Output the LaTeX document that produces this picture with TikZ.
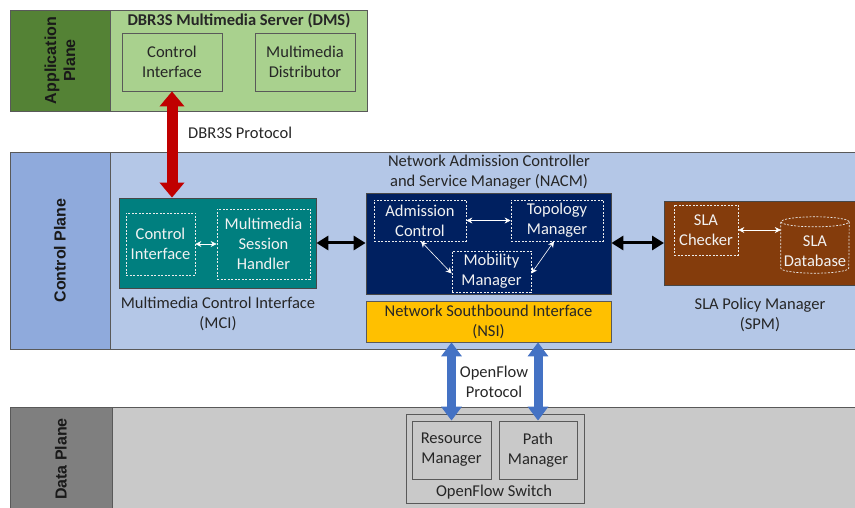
\documentclass[tikz,border=0pt]{standalone}
\usepackage{fontspec}
\setmainfont{Carlito}
\newfontfamily\planefont{Liberation Sans}
\usetikzlibrary{arrows.meta,shapes.geometric}
\definecolor{appdark}{HTML}{548235}
\definecolor{applight}{HTML}{A9D18E}
\definecolor{ctldark}{HTML}{8FAADC}
\definecolor{ctllight}{HTML}{B4C7E7}
\definecolor{datadark}{HTML}{7F7F7F}
\definecolor{datalight}{HTML}{C9C9C9}
\definecolor{teal2}{HTML}{007F7F}
\definecolor{navy2}{HTML}{002060}
\definecolor{gold2}{HTML}{FFC000}
\definecolor{brown2}{HTML}{843C0C}
\definecolor{red2}{HTML}{C00000}
\definecolor{blue2}{HTML}{4472C4}
\definecolor{edge}{HTML}{595959}
\definecolor{txt}{HTML}{262626}
\definecolor{wtxt}{HTML}{F2F2F2}
\tikzset{
  plain/.style={font=\fontsize{16.5}{20}\selectfont, text=txt, align=center, inner sep=0pt},
  box/.style={draw=edge, line width=0.8pt, inner sep=0pt, align=center, font=\fontsize{16.5}{20}\selectfont, text=txt},
  dbox/.style={draw=white!85!gray, dashed, dash pattern=on 2pt off 1.5pt, line width=0.7pt, inner sep=0pt, align=center, font=\fontsize{16.5}{20}\selectfont, text=wtxt},
  planelbl/.style={rotate=90, font=\planefont\bfseries\fontsize{16}{19}\selectfont, text=black!90, align=center, inner sep=0pt},
  warrow/.style={draw=white, line width=0.6pt, {Stealth[length=6pt,width=6pt]}-{Stealth[length=6pt,width=6pt]}},
  barrow/.style={draw=black, line width=3pt, {Triangle[length=12pt,width=14pt]}-{Triangle[length=12pt,width=14pt]}},
}
\begin{document}
\begin{tikzpicture}[x=1pt,y=-1pt]
\useasboundingbox (0,0) rectangle (855,508);
% ---------- Application plane
\node[box, fill=applight, minimum width=257pt, minimum height=101pt] (appbody) at (238.5,60.5) {};
\node[box, fill=appdark, minimum width=100pt, minimum height=101pt] (applbl) at (60,60.5) {};
\node[planelbl] (appname) at (60,60.5) {Application\\Plane};
\node[plain, font=\bfseries\fontsize{16.5}{20}\selectfont] (dms) at (239,21) {DBR3S Multimedia Server (DMS)};
\node[box, fill=applight, minimum width=100pt, minimum height=58pt] (appci) at (172,62) {Control\\Interface};
\node[box, fill=applight, minimum width=100pt, minimum height=58pt] (appmd) at (305,62) {Multimedia\\Distributor};
% ---------- Control plane
\draw[draw=edge, line width=0.8pt, fill=ctllight] (110,152) rectangle (862,349);
\node[box, fill=ctldark, minimum width=100pt, minimum height=197pt] (ctllbl) at (60,250.5) {};
\node[planelbl] (ctlname) at (60,250.5) {Control Plane};
% MCI
\node[box, fill=teal2, draw=edge!80!black, minimum width=197pt, minimum height=90pt] (mci) at (217.5,243) {};
\node[dbox, minimum width=69pt, minimum height=62pt] (mcici) at (160.5,244) {Control\\Interface};
\node[dbox, minimum width=93pt, minimum height=70pt] (mcimsh) at (263.5,244) {Multimedia\\Session\\Handler};
\node[plain] (mcilbl) at (218,314) {Multimedia Control Interface\\(MCI)};
% NACM
\node[plain] (nacmlbl) at (489,172.5) {Network Admission Controller\\and Service Manager (NACM)};
\node[box, fill=navy2, draw=edge!80!black, minimum width=245pt, minimum height=101pt] (nacm) at (488.5,243.5) {};
\node[dbox, minimum width=92pt, minimum height=41pt] (adm) at (420,220.5) {Admission\\Control};
\node[dbox, minimum width=92pt, minimum height=41pt] (topo) at (557,220.5) {Topology\\Manager};
\node[dbox, minimum width=79pt, minimum height=41pt] (mob) at (491.5,271.5) {Mobility\\Manager};
% NSI
\node[box, fill=gold2, minimum width=245pt, minimum height=41pt] (nsi) at (488.5,321.5) {Network Southbound Interface\\(NSI)};
% SPM
\draw[draw=edge!80!black, line width=0.8pt, fill=brown2] (664,201) rectangle (862,285);
\coordinate (spmwest) at (664,243);
\node[dbox, minimum width=64pt, minimum height=50pt] (slach) at (706,230) {SLA\\Checker};
\node[inner sep=0pt, minimum width=68pt, minimum height=56pt] (sladb) at (815,245) {};
\draw[draw=white!85!gray, dash pattern=on 2pt off 1.5pt, line width=0.7pt]
  ([yshift=-5pt]sladb.north) ellipse [x radius=34pt, y radius=5pt]
  ([yshift=-5pt]sladb.north west) -- ([yshift=5pt]sladb.south west)
  arc[start angle=180, end angle=360, x radius=34pt, y radius=5pt]
  -- ([yshift=-5pt]sladb.north east);
\node[plain, text=wtxt] (sladbt) at (815,251) {SLA\\Database};
\node[plain] (spmlbl) at (760,315) {SLA Policy Manager\\(SPM)};
% ---------- Data plane
\draw[draw=edge, line width=0.8pt, fill=datalight] (112,407) rectangle (862,515);
\draw[draw=edge, line width=0.8pt, fill=datadark] (10,407) rectangle (112,515);
\node[planelbl] (dataname) at (61,459) {Data Plane};
\node[box, fill=datalight, minimum width=178pt, minimum height=89pt] (switch) at (495,458.5) {};
\node[box, fill=datalight, minimum width=79pt, minimum height=58pt] (resm) at (451.5,450) {Resource\\Manager};
\node[box, fill=datalight, minimum width=78pt, minimum height=58pt] (pathm) at (538,450) {Path\\Manager};
\node[plain] (swlbl) at (494,492) {OpenFlow Switch};
% ---------- connectors
\draw[draw=red2, line width=11pt, {Triangle[length=15pt,width=24pt]}-{Triangle[length=15pt,width=24pt]}] (appci.south) -- (mci.north -| appci.south);
\node[plain, anchor=west] (dbrlbl) at (188,133) {DBR3S Protocol};
\draw[barrow] (mci.east) -- (nacm.west |- mci.east);
\draw[barrow] (nacm.east |- mci.east) -- (spmwest);
\draw[warrow] (mcici.east) -- (mcici.east -| mcimsh.west);
\draw[warrow] (adm.east) -- (topo.west);
\draw[warrow] ([xshift=1pt]adm.south) -- ([yshift=-2pt]mob.west);
\draw[warrow] ([xshift=-3pt]topo.south) -- ([yshift=-2pt]mob.east);
\draw[warrow] (slach.east) -- (slach.east -| sladb.west);
\draw[draw=blue2, line width=9pt, {Triangle[length=14pt,width=20pt]}-{Triangle[length=14pt,width=20pt]}] (nsi.south -| resm.north) -- (resm.north);
\draw[draw=blue2, line width=9pt, {Triangle[length=14pt,width=20pt]}-{Triangle[length=14pt,width=20pt]}] (nsi.south -| pathm.north) -- (pathm.north);
\node[plain] (oflbl) at (494,381.5) {OpenFlow\\Protocol};
\end{tikzpicture}
\end{document}
